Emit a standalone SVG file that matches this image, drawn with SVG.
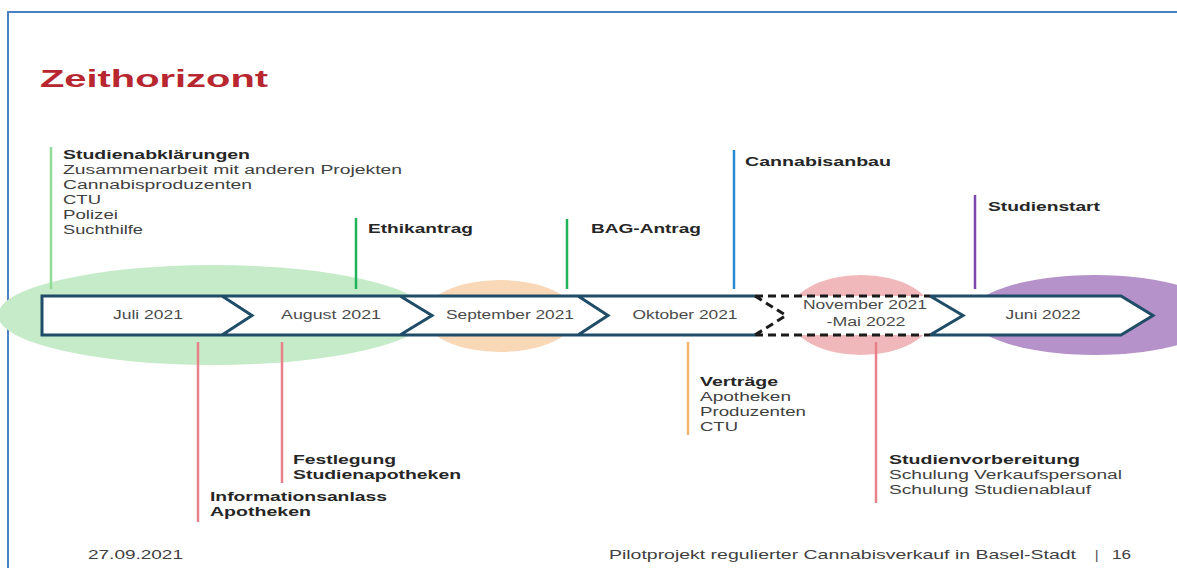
<svg xmlns="http://www.w3.org/2000/svg" width="1177" height="568" viewBox="0 0 1177 568">
<style>
text{font-family:"Liberation Sans",Arial,sans-serif;}
.t{font-size:12px;fill:#404040;}
.b{font-size:12.5px;font-weight:bold;fill:#262626;}
.m{font-size:12px;fill:#4a4a4a;text-anchor:middle;}
.f{font-size:13px;fill:#404040;}
.ln{stroke-width:2.5;fill:none;}
</style>
<rect x="0" y="0" width="1177" height="568" fill="#ffffff"/>
<path d="M8,568 V12 H1177" fill="none" stroke="#4a80c4" stroke-width="2"/>
<text x="40" y="87" font-size="24" font-weight="bold" fill="#b8262f" textLength="228" lengthAdjust="spacingAndGlyphs">Zeithorizont</text>

<g id="phases">
<ellipse cx="213" cy="315" rx="215" ry="50" fill="#c6ebc9"/>
<ellipse cx="500" cy="316" rx="76" ry="36" fill="#f8d8b6"/>
<ellipse cx="861" cy="315" rx="72" ry="40" fill="#f0b8bb"/>
<ellipse cx="1095" cy="315" rx="125" ry="40" fill="#b592c9"/>
</g>

<g id="timeline">
<path d="M42,296 H1121 L1153,315.5 L1121,335 H42 Z" fill="#ffffff"/>
<path d="M755,296 H42 V335 H755 M222,296 L252,315.5 L222,335 M400,296 L432,315.5 L400,335 M578,296 L608,315.5 L578,335 M930,296 H1121 L1153,315.5 L1121,335 H930 M930,296 L963,315.5 L930,335" fill="none" stroke="#1f4d68" stroke-width="3" stroke-linejoin="miter"/>
<path d="M755,296 H930 M755,335 H930 M755,296 L786,315.5 L755,335" fill="none" stroke="#1a1a1a" stroke-width="3" stroke-dasharray="8,5"/>
<text class="m" x="148" y="319" textLength="70" lengthAdjust="spacingAndGlyphs">Juli 2021</text>
<text class="m" x="331" y="319" textLength="100" lengthAdjust="spacingAndGlyphs">August 2021</text>
<text class="m" x="510" y="319" textLength="128" lengthAdjust="spacingAndGlyphs">September 2021</text>
<text class="m" x="685" y="319" textLength="105" lengthAdjust="spacingAndGlyphs">Oktober 2021</text>
<text class="m" x="865" y="309" textLength="124" lengthAdjust="spacingAndGlyphs">November 2021</text>
<text class="m" x="866" y="326" textLength="79" lengthAdjust="spacingAndGlyphs">-Mai 2022</text>
<text class="m" x="1043" y="319" textLength="75" lengthAdjust="spacingAndGlyphs">Juni 2022</text>
</g>

<g id="connectors">
<line class="ln" x1="51" y1="147" x2="51" y2="289" stroke="#92dc9a"/>
<line class="ln" x1="356" y1="218" x2="356" y2="289" stroke="#1fb35a"/>
<line class="ln" x1="567" y1="219" x2="567" y2="289" stroke="#1fb35a"/>
<line class="ln" x1="734" y1="150" x2="734" y2="289" stroke="#2b8ad1"/>
<line class="ln" x1="975" y1="195" x2="975" y2="289" stroke="#7e47ad"/>
<line class="ln" x1="198" y1="342" x2="198" y2="522" stroke="#e8808a"/>
<line class="ln" x1="282" y1="342" x2="282" y2="483" stroke="#e8808a"/>
<line class="ln" x1="688" y1="342" x2="688" y2="435" stroke="#f5b56e"/>
<line class="ln" x1="876" y1="342" x2="876" y2="503" stroke="#e8808a"/>
</g>

<g id="studienabklaerungen">
<text class="b" x="63" y="159" textLength="187" lengthAdjust="spacingAndGlyphs">Studienabklärungen</text>
<text class="t" x="63" y="174" textLength="339" lengthAdjust="spacingAndGlyphs">Zusammenarbeit mit anderen Projekten</text>
<text class="t" x="63" y="189" textLength="189" lengthAdjust="spacingAndGlyphs">Cannabisproduzenten</text>
<text class="t" x="63" y="204" textLength="38" lengthAdjust="spacingAndGlyphs">CTU</text>
<text class="t" x="63" y="219" textLength="55" lengthAdjust="spacingAndGlyphs">Polizei</text>
<text class="t" x="63" y="234" textLength="80" lengthAdjust="spacingAndGlyphs">Suchthilfe</text>
</g>
<g id="ethikantrag">
<text class="b" x="368" y="233" textLength="105" lengthAdjust="spacingAndGlyphs">Ethikantrag</text>
</g>
<g id="bag-antrag">
<text class="b" x="591" y="233" textLength="110" lengthAdjust="spacingAndGlyphs">BAG-Antrag</text>
</g>
<g id="cannabisanbau">
<text class="b" x="745" y="166" textLength="146" lengthAdjust="spacingAndGlyphs">Cannabisanbau</text>
</g>
<g id="studienstart">
<text class="b" x="988" y="211" textLength="112" lengthAdjust="spacingAndGlyphs">Studienstart</text>
</g>
<g id="festlegung">
<text class="b" x="293" y="464" textLength="103" lengthAdjust="spacingAndGlyphs">Festlegung</text>
<text class="b" x="293" y="479" textLength="168" lengthAdjust="spacingAndGlyphs">Studienapotheken</text>
</g>
<g id="informationsanlass">
<text class="b" x="210" y="501" textLength="177" lengthAdjust="spacingAndGlyphs">Informationsanlass</text>
<text class="b" x="210" y="516" textLength="101" lengthAdjust="spacingAndGlyphs">Apotheken</text>
</g>
<g id="vertraege">
<text class="b" x="700" y="386" textLength="78" lengthAdjust="spacingAndGlyphs">Verträge</text>
<text class="t" x="700" y="401" textLength="91" lengthAdjust="spacingAndGlyphs">Apotheken</text>
<text class="t" x="700" y="416" textLength="106" lengthAdjust="spacingAndGlyphs">Produzenten</text>
<text class="t" x="700" y="431" textLength="38" lengthAdjust="spacingAndGlyphs">CTU</text>
</g>
<g id="studienvorbereitung">
<text class="b" x="889" y="464" textLength="191" lengthAdjust="spacingAndGlyphs">Studienvorbereitung</text>
<text class="t" x="889" y="479" textLength="233" lengthAdjust="spacingAndGlyphs">Schulung  Verkaufspersonal</text>
<text class="t" x="889" y="494" textLength="202" lengthAdjust="spacingAndGlyphs">Schulung  Studienablauf</text>
</g>

<g id="footer">
<text class="f" x="88" y="559" textLength="95" lengthAdjust="spacingAndGlyphs">27.09.2021</text>
<text class="f" x="609" y="559" textLength="467" lengthAdjust="spacingAndGlyphs">Pilotprojekt regulierter Cannabisverkauf in Basel-Stadt</text>
<text class="f" x="1095" y="559">|</text>
<text class="f" x="1112" y="559" textLength="19" lengthAdjust="spacingAndGlyphs">16</text>
</g>
</svg>
